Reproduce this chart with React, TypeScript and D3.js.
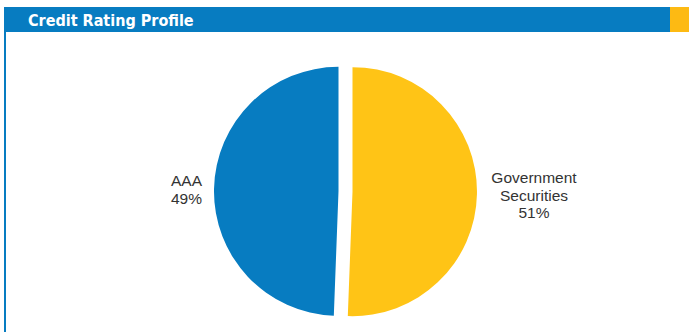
import React from "react";
import * as d3 from "d3";

const categories = ["Government Securities", "AAA"];
const labelNames = [["Government", "Securities"], ["AAA"]];
const values = [50.6, 49.4];
const colors = ["#FFC416", "#077CC1"];
const title = "Credit Rating Profile";

const W = 689;
const H = 332;

export default function App() {
  const cx = 345.5;
  const cy = 191.5;
  const r = 124.5;
  const explode = 7;
  const pie = d3.pie<number>().sort(null).value((d) => d)(values);
  const arc = d3.arc<d3.PieArcDatum<number>>().innerRadius(0).outerRadius(r);
  const labelX = [534, 186.5];
  const labelY = [183, 186];
  const total = d3.sum(values);

  return (
    <svg
      width={W}
      height={H}
      style={{ position: "absolute", left: 0, top: 0, background: "#fff" }}
    >
      <rect x={4} y={7} width={666} height={25} fill="#077CC1" />
      <rect x={670} y={7} width={19} height={25} fill="#FDBA13" />
      <rect x={4} y={31} width={2} height={H - 31} fill="#077CC1" />
      <text
        x={28}
        y={26}
        fill="#fff"
        fontFamily="'DejaVu Sans', sans-serif"
        fontStretch="condensed"
        fontWeight="bold"
        fontSize={16}
      >
        {title}
      </text>
      {pie.map((p, i) => {
        const mid = (p.startAngle + p.endAngle) / 2;
        const dx = explode * Math.sin(mid);
        const dy = -explode * Math.cos(mid);
        return (
          <path
            key={categories[i]}
            d={arc(p) || ""}
            fill={colors[i]}
            transform={`translate(${cx + dx},${cy + dy})`}
          />
        );
      })}
      {labelNames.map((names, i) => {
        const lines = [...names, `${Math.round((values[i] / total) * 100)}%`];
        return (
          <text
            key={categories[i] + "-label"}
            x={labelX[i]}
            y={labelY[i]}
            textAnchor="middle"
            fill="#333"
            fontFamily="'Liberation Sans', Arial, sans-serif"
            fontSize={15.5}
          >
            {lines.map((l, j) => (
              <tspan key={j} x={labelX[i]} dy={j === 0 ? 0 : 17.5}>
                {l}
              </tspan>
            ))}
          </text>
        );
      })}
    </svg>
  );
}
